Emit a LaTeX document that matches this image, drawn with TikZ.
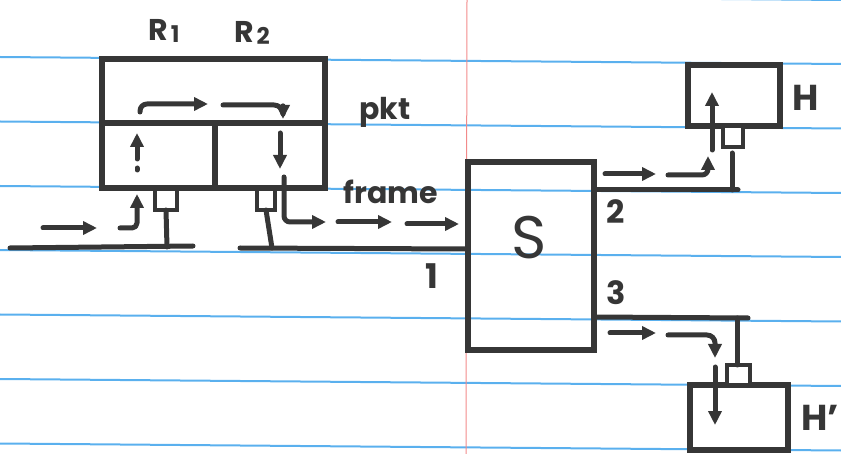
\documentclass[tikz,border=0pt]{standalone}
\usepackage{fontspec}
\setmainfont{Poppins}
\usetikzlibrary{arrows.meta}
\definecolor{ink}{HTML}{363636}
\definecolor{rule}{HTML}{5AB0EE}
\definecolor{margin}{HTML}{F28A8A}
\tikzset{
  ln/.style={draw=ink, line width=5pt, line cap=round, line join=round},
  arr/.style={ln, -{Triangle[length=14pt,width=13pt]}},
  box/.style={draw=ink, line width=5.5pt, inner sep=0pt, outer sep=0pt, anchor=north west},
  ifbox/.style={draw=ink, line width=4pt, inner sep=0pt, outer sep=0pt, anchor=north west, fill=white},
  lbl/.style={text=ink, inner sep=0pt},
  ruleline/.style={draw=rule, line width=2pt},
}
\begin{document}
\begin{tikzpicture}[x=1pt,y=-1pt]
\useasboundingbox (0,0) rectangle (841,454);
% paper rules
\foreach \yy in {-7,57,121.5,186,250,314.5,379,443.5}
  \draw[ruleline] (0,\yy) -- (841,\yy+7);
\draw[draw=margin, line width=1pt] (467,0) -- (466,454);

% router box
\node[box, minimum width=223pt, minimum height=129pt] (R) at (102,59) {};
\coordinate (Rdl) at (102,123);
\coordinate (Rdr) at (325,123);
\draw[ln, line width=5.5pt] (Rdl) -- (Rdr);
\coordinate (Rvt) at (215,123);
\coordinate (Rvb) at (215,188);
\draw[ln, line width=5.5pt] (Rvt) -- (Rvb);
\node[lbl, font=\fontsize{30}{30}\selectfont\bfseries] (R1) at (164,31) {R\kern3pt\raisebox{-2pt}{\fontsize{23}{23}\selectfont 1}};
\node[lbl, font=\fontsize{30}{30}\selectfont\bfseries] (R2) at (252,33) {R\kern3pt\raisebox{-2pt}{\fontsize{23}{23}\selectfont 2}};
\node[lbl, font=\fontsize{30}{30}\selectfont\bfseries] (pkt) at (385,112) {pkt};
\node[lbl, font=\fontsize{30}{30}\selectfont\bfseries] (frame) at (391,192) {frame};

% interfaces of router
\node[ifbox, minimum width=22pt, minimum height=21pt] (if1) at (155,189) {};
\node[ifbox, minimum width=18pt, minimum height=21pt] (if2) at (257,189) {};

% LAN 1 (left)
\coordinate (b1a) at (10,248);
\coordinate (b1b) at (193,246);
\draw[ln] (b1a) -- (b1b);
\coordinate (b1s) at (167,247);
\draw[ln] (if1.south) -- (b1s);

% switch
\node[box, minimum width=126pt, minimum height=188pt] (S) at (468,162) {};
\node[lbl, font=\fontsize{60}{60}\selectfont] (Slab) at (529,238) {S};
\node[lbl, font=\fontsize{34}{34}\selectfont\bfseries] (p1) at (432,276) {1};
\node[lbl, font=\fontsize{32}{32}\selectfont\bfseries] (p2) at (616,212) {2};
\node[lbl, font=\fontsize{32}{32}\selectfont\bfseries] (p3) at (616,293) {3};

% LAN 2 (router to switch port 1)
\coordinate (b2a) at (240,248);
\coordinate (S1) at (468,249);
\draw[ln] (b2a) -- (S1);
\coordinate (b2s) at (272,248);
\draw[ln] (if2.south) -- (b2s);

% host H
\node[box, minimum width=92pt, minimum height=61pt] (H) at (688,65) {};
\node[ifbox, minimum width=20pt, minimum height=21pt] (ifH) at (723,126) {};
\node[lbl, font=\fontsize{36}{36}\selectfont\bfseries] (Hlab) at (806,98) {H};
\coordinate (S2) at (594,190);
\coordinate (l2e) at (738,190);
\draw[ln] (S2) -- (l2e);
\coordinate (l2s) at (732,190);
\coordinate (l2t) at (732,153);
\draw[ln] (l2s) -- (l2t);

% host H'
\node[box, minimum width=98pt, minimum height=65pt] (Hp) at (690,385) {};
\node[ifbox, minimum width=23pt, minimum height=20pt] (ifHp) at (727,365) {};
\node[lbl, font=\fontsize{36}{36}\selectfont\bfseries, anchor=west] (Hplab) at (801,418) {H'};
\coordinate (S3) at (594,317);
\coordinate (l3e) at (748,318);
\draw[ln] (S3) -- (l3e);
\coordinate (l3s) at (737,318);
\draw[ln] (l3s) -- (ifHp.north -| l3s);

% ---- packet path arrows ----
\coordinate (in1a) at (43,228);
\coordinate (in1b) at (97,228);
\draw[arr] (in1a) -- (in1b);
\coordinate (in2a) at (120,228);
\coordinate (in2b) at (137,194);
\draw[arr, rounded corners=5pt] (in2a) -| (in2b);
\coordinate (up1a) at (137,170);
\coordinate (up1b) at (137,133);
\draw[arr, dash pattern=on 2pt off 9pt on 40pt off 0pt] (up1a) -- (up1b);

\coordinate (t1a) at (140,112);
\coordinate (t1b) at (208,104);
\draw[arr, rounded corners=7pt] (t1a) |- (t1b);
\coordinate (t2a) at (223,105);
\coordinate (t2b) at (283,119);
\draw[arr, rounded corners=9pt] (t2a) -| (t2b);

\coordinate (dn1a) at (280,133);
\coordinate (dn1b) at (280,169);
\draw[arr] (dn1a) -- (dn1b);
\coordinate (o1a) at (284,177);
\coordinate (o1b) at (326,222);
\draw[arr, rounded corners=6pt] (o1a) |- (o1b);
\coordinate (o2a) at (338,222);
\coordinate (o2b) at (392,222);
\draw[arr] (o2a) -- (o2b);
\coordinate (o3a) at (407,224);
\coordinate (o3b) at (459,224);
\draw[arr] (o3a) -- (o3b);

% to H
\coordinate (h1a) at (605,174);
\coordinate (h1b) at (656,174);
\draw[arr] (h1a) -- (h1b);
\coordinate (h2a) at (668,175);
\coordinate (h2b) at (708,156);
\draw[arr, rounded corners=6pt] (h2a) -| (h2b);
\coordinate (h3a) at (712,150);
\coordinate (h3b) at (712,92);
\draw[arr] (h3a) -- (h3b);

% to H'
\coordinate (k1a) at (610,333);
\coordinate (k1b) at (656,333);
\draw[arr] (k1a) -- (k1b);
\coordinate (k2a) at (668,335);
\coordinate (k2b) at (715,358);
\draw[arr, rounded corners=8pt] (k2a) -| (k2b);
\coordinate (k3a) at (715,367);
\coordinate (k3b) at (715,425);
\draw[arr] (k3a) -- (k3b);
\end{tikzpicture}
\end{document}
